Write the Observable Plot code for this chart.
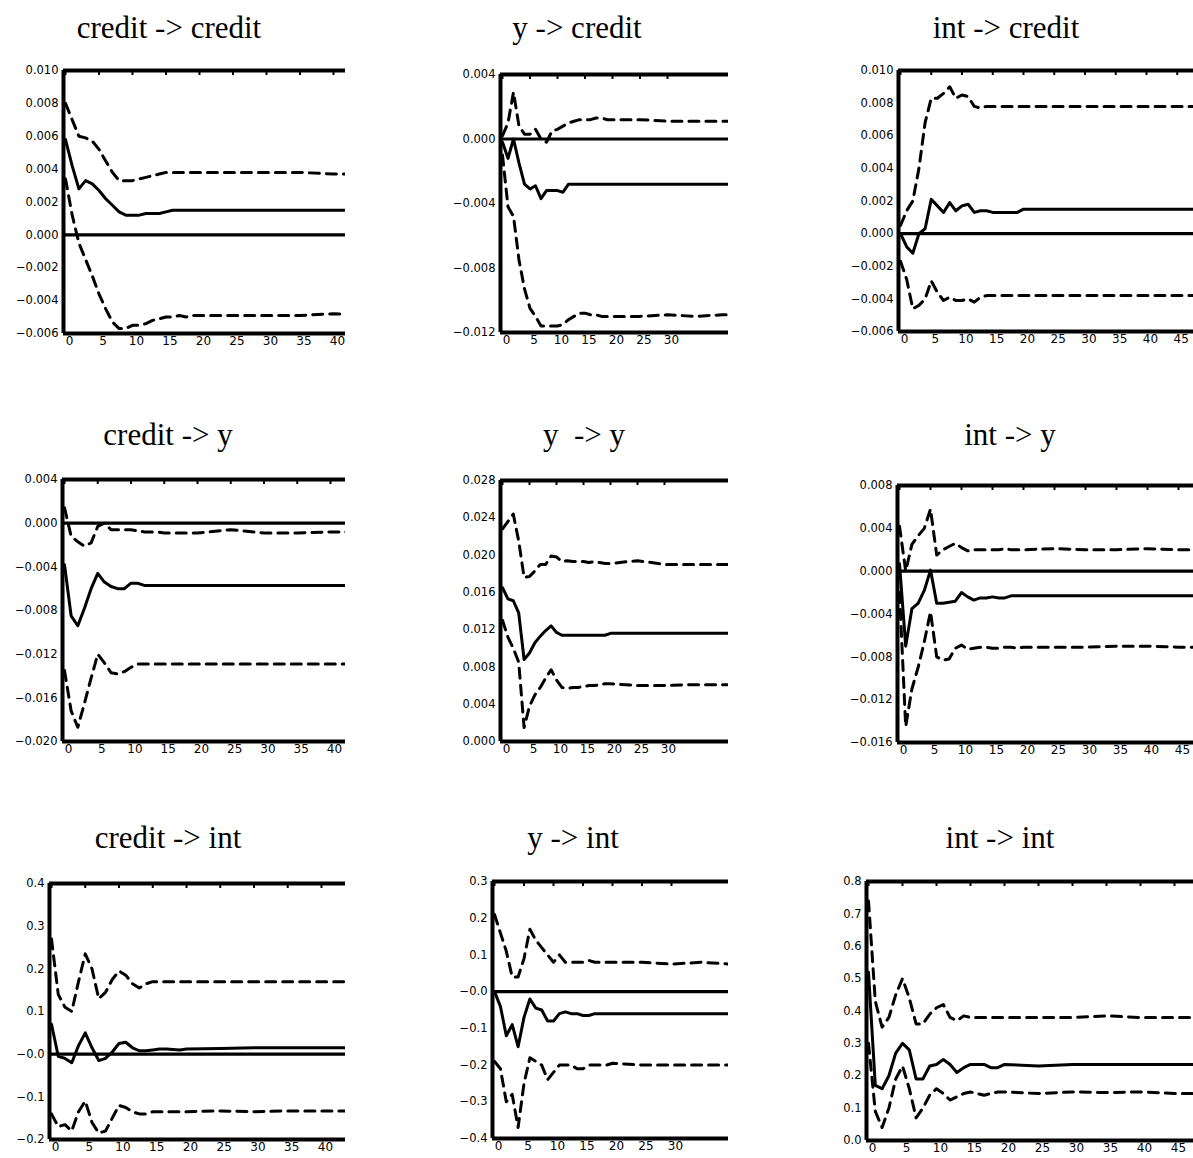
<!DOCTYPE html>
<html><head><meta charset="utf-8">
<script src="https://cdn.jsdelivr.net/npm/d3@7"></script>
<script src="https://cdn.jsdelivr.net/npm/@observablehq/plot@0.6"></script>
<style>
body{margin:0;background:#fff;}
#root{position:relative;width:1193px;height:1158px;overflow:hidden;background:#fff;}
.title{position:absolute;font-family:"Liberation Serif","Times New Roman",serif;font-size:31px;color:#000;white-space:pre;transform:translateX(-50%);line-height:1;}
.panel{position:absolute;overflow:hidden;}
</style></head><body><div id="root"></div>
<script>
// horizon steps (periods)
const steps = [0,1,2,3,4,5,6,7,8,9,10,11,12,13,14,15,16,17,18,19,20,25,30,35,40,45,50];

// credit -> credit
const cc_mid = [0.0058,0.0042,0.0028,0.0033,0.0031,0.0027,0.0022,0.0018,0.0014,0.0012,0.0012,0.0012,0.0013,0.0013,0.0013,0.0014,0.0015,0.0015,0.0015,0.0015,0.0015,0.0015,0.0015,0.0015,0.0015,0.0015,0.0015];
const cc_hi  = [0.0080,0.0070,0.0060,0.0059,0.0057,0.0052,0.0045,0.0038,0.0033,0.0033,0.0033,0.0034,0.0035,0.0036,0.0037,0.0038,0.0038,0.0038,0.0038,0.0038,0.0038,0.0038,0.0038,0.0038,0.0037,0.0037,0.0037];
const cc_lo  = [0.0034,0.0012,-0.0005,-0.0015,-0.0025,-0.0036,-0.0045,-0.0053,-0.0057,-0.0057,-0.0055,-0.0055,-0.0054,-0.0052,-0.0051,-0.0050,-0.0050,-0.0049,-0.0050,-0.0049,-0.0049,-0.0049,-0.0049,-0.0049,-0.0048,-0.0049,-0.0049];

// y -> credit
const yc_mid = [-0.0002,-0.0012,0.0000,-0.0015,-0.0028,-0.0031,-0.0029,-0.0037,-0.0032,-0.0032,-0.0032,-0.0033,-0.0028,-0.0028,-0.0028,-0.0028,-0.0028,-0.0028,-0.0028,-0.0028,-0.0028,-0.0028,-0.0028,-0.0028,-0.0028,-0.0028,-0.0028];
const yc_hi  = [0.0002,0.0010,0.0029,0.0008,0.0003,0.0003,0.0006,0.0000,-0.0002,0.0005,0.0006,0.0008,0.0010,0.0011,0.0012,0.0012,0.0012,0.0013,0.0013,0.0012,0.0012,0.0012,0.0011,0.0011,0.0011,0.0011,0.0011];
const yc_lo  = [-0.0010,-0.0042,-0.0048,-0.0075,-0.0093,-0.0105,-0.0110,-0.0116,-0.0116,-0.0116,-0.0116,-0.0115,-0.0112,-0.0110,-0.0108,-0.0108,-0.0109,-0.0109,-0.0110,-0.0110,-0.0110,-0.0110,-0.0109,-0.0110,-0.0109,-0.0109,-0.0109];

// int -> credit
const ic_mid = [0.0000,-0.0008,-0.0012,0.0000,0.0003,0.0021,0.0017,0.0013,0.0019,0.0014,0.0017,0.0018,0.0013,0.0014,0.0014,0.0013,0.0013,0.0013,0.0013,0.0013,0.0015,0.0015,0.0015,0.0015,0.0015,0.0015,0.0015];
const ic_hi  = [0.0005,0.0014,0.0020,0.0040,0.0068,0.0083,0.0083,0.0086,0.0090,0.0083,0.0085,0.0084,0.0078,0.0077,0.0078,0.0078,0.0078,0.0078,0.0078,0.0078,0.0078,0.0078,0.0078,0.0078,0.0078,0.0078,0.0078];
const ic_lo  = [-0.0017,-0.0028,-0.0046,-0.0044,-0.0040,-0.0029,-0.0036,-0.0041,-0.0039,-0.0041,-0.0041,-0.0040,-0.0042,-0.0039,-0.0038,-0.0038,-0.0038,-0.0038,-0.0038,-0.0038,-0.0038,-0.0038,-0.0038,-0.0038,-0.0038,-0.0038,-0.0038];

// credit -> y
const cy_mid = [-0.0038,-0.0085,-0.0094,-0.0078,-0.0060,-0.0046,-0.0054,-0.0058,-0.0060,-0.0060,-0.0055,-0.0055,-0.0057,-0.0057,-0.0057,-0.0057,-0.0057,-0.0057,-0.0057,-0.0057,-0.0057,-0.0057,-0.0057,-0.0057,-0.0057,-0.0057,-0.0057];
const cy_hi  = [0.0014,-0.0012,-0.0017,-0.0021,-0.0018,-0.0003,0.0000,-0.0006,-0.0006,-0.0006,-0.0006,-0.0007,-0.0008,-0.0008,-0.0008,-0.0009,-0.0009,-0.0009,-0.0009,-0.0009,-0.0009,-0.0006,-0.0009,-0.0009,-0.0008,-0.0008,-0.0008];
const cy_lo  = [-0.0135,-0.0172,-0.0187,-0.0165,-0.0142,-0.0120,-0.0128,-0.0137,-0.0138,-0.0136,-0.0132,-0.0129,-0.0129,-0.0129,-0.0129,-0.0129,-0.0129,-0.0129,-0.0129,-0.0129,-0.0129,-0.0129,-0.0129,-0.0129,-0.0129,-0.0129,-0.0129];

// y -> y
const yy_mid = [0.0165,0.0153,0.0151,0.0138,0.0088,0.0095,0.0106,0.0113,0.0119,0.0124,0.0117,0.0114,0.0114,0.0114,0.0114,0.0114,0.0114,0.0114,0.0114,0.0114,0.0116,0.0116,0.0116,0.0116,0.0116,0.0116,0.0116];
const yy_hi  = [0.0228,0.0236,0.0244,0.0215,0.0176,0.0177,0.0183,0.0190,0.0190,0.0199,0.0198,0.0193,0.0194,0.0193,0.0193,0.0193,0.0192,0.0193,0.0192,0.0191,0.0191,0.0194,0.0190,0.0190,0.0190,0.0190,0.0190];
const yy_lo  = [0.0130,0.0112,0.0100,0.0085,0.0015,0.0038,0.0050,0.0058,0.0068,0.0077,0.0066,0.0058,0.0057,0.0058,0.0058,0.0059,0.0060,0.0060,0.0061,0.0062,0.0062,0.0060,0.0060,0.0061,0.0061,0.0061,0.0061];

// int -> y
const iy_mid = [0.0007,-0.0070,-0.0035,-0.0030,-0.0018,0.0001,-0.0030,-0.0030,-0.0029,-0.0028,-0.0020,-0.0024,-0.0027,-0.0025,-0.0025,-0.0024,-0.0025,-0.0025,-0.0023,-0.0023,-0.0023,-0.0023,-0.0023,-0.0023,-0.0023,-0.0023,-0.0023];
const iy_hi  = [0.0042,0.0000,0.0025,0.0033,0.0040,0.0058,0.0015,0.0020,0.0023,0.0026,0.0022,0.0019,0.0020,0.0020,0.0020,0.0020,0.0020,0.0021,0.0020,0.0020,0.0020,0.0021,0.0020,0.0020,0.0021,0.0020,0.0020];
const iy_lo  = [-0.0020,-0.0145,-0.0110,-0.0090,-0.0066,-0.0038,-0.0080,-0.0083,-0.0082,-0.0072,-0.0069,-0.0073,-0.0072,-0.0071,-0.0071,-0.0072,-0.0072,-0.0071,-0.0071,-0.0072,-0.0071,-0.0071,-0.0071,-0.0070,-0.0070,-0.0071,-0.0071];

// credit -> int
const ci_mid = [0.070,-0.005,-0.010,-0.020,0.020,0.050,0.015,-0.015,-0.010,0.005,0.025,0.028,0.015,0.008,0.008,0.010,0.012,0.012,0.011,0.010,0.012,0.013,0.015,0.015,0.015,0.015,0.015];
const ci_hi  = [0.27,0.14,0.11,0.10,0.17,0.235,0.20,0.13,0.145,0.175,0.195,0.185,0.165,0.155,0.165,0.17,0.17,0.17,0.17,0.17,0.17,0.17,0.17,0.17,0.17,0.17,0.17];
const ci_lo  = [-0.14,-0.17,-0.165,-0.18,-0.135,-0.11,-0.16,-0.185,-0.18,-0.15,-0.12,-0.125,-0.135,-0.14,-0.14,-0.135,-0.135,-0.135,-0.135,-0.135,-0.135,-0.133,-0.135,-0.133,-0.133,-0.133,-0.133];

// y -> int
const yi_mid = [0.000,-0.040,-0.120,-0.090,-0.150,-0.070,-0.020,-0.045,-0.050,-0.080,-0.080,-0.060,-0.055,-0.060,-0.060,-0.065,-0.065,-0.060,-0.060,-0.060,-0.060,-0.060,-0.060,-0.060,-0.060,-0.060,-0.060];
const yi_hi  = [0.21,0.16,0.11,0.04,0.04,0.09,0.17,0.14,0.12,0.10,0.08,0.10,0.08,0.08,0.08,0.08,0.085,0.08,0.08,0.08,0.08,0.08,0.075,0.08,0.075,0.075,0.075];
const yi_lo  = [-0.19,-0.21,-0.30,-0.28,-0.37,-0.25,-0.18,-0.19,-0.20,-0.24,-0.22,-0.20,-0.20,-0.20,-0.21,-0.21,-0.20,-0.20,-0.20,-0.20,-0.195,-0.20,-0.20,-0.20,-0.20,-0.20,-0.20];

// int -> int
const ii_mid = [0.52,0.17,0.16,0.20,0.27,0.30,0.28,0.19,0.19,0.23,0.235,0.25,0.235,0.21,0.225,0.235,0.235,0.235,0.225,0.225,0.235,0.23,0.235,0.235,0.235,0.235,0.235];
const ii_hi  = [0.74,0.43,0.35,0.38,0.45,0.50,0.44,0.36,0.36,0.39,0.41,0.42,0.38,0.37,0.385,0.38,0.38,0.38,0.38,0.38,0.38,0.38,0.38,0.385,0.38,0.38,0.38];
const ii_lo  = [0.30,0.09,0.04,0.10,0.19,0.23,0.16,0.07,0.10,0.14,0.16,0.145,0.125,0.135,0.145,0.15,0.145,0.14,0.145,0.15,0.15,0.145,0.15,0.148,0.15,0.145,0.145];

// tick values and labels
const yt_credit = [0.010,0.008,0.006,0.004,0.002,0,-0.002,-0.004,-0.006];
const yl_credit = ["0.010","0.008","0.006","0.004","0.002","0.000","\u22120.002","\u22120.004","\u22120.006"];
const yt_yc = [0.004,0,-0.004,-0.008,-0.012];
const yl_yc = ["0.004","0.000","\u22120.004","\u22120.008","\u22120.012"];
const yt_cy = [0.004,0,-0.004,-0.008,-0.012,-0.016,-0.020];
const yl_cy = ["0.004","0.000","\u22120.004","\u22120.008","\u22120.012","\u22120.016","\u22120.020"];
const yt_yy = [0.028,0.024,0.020,0.016,0.012,0.008,0.004,0];
const yl_yy = ["0.028","0.024","0.020","0.016","0.012","0.008","0.004","0.000"];
const yt_iy = [0.008,0.004,0,-0.004,-0.008,-0.012,-0.016];
const yl_iy = ["0.008","0.004","0.000","\u22120.004","\u22120.008","\u22120.012","\u22120.016"];
const yt_ci = [0.4,0.3,0.2,0.1,0,-0.1,-0.2];
const yl_ci = ["0.4","0.3","0.2","0.1","\u22120.0","\u22120.1","\u22120.2"];
const yt_yi = [0.3,0.2,0.1,0,-0.1,-0.2,-0.3,-0.4];
const yl_yi = ["0.3","0.2","0.1","\u22120.0","\u22120.1","\u22120.2","\u22120.3","\u22120.4"];
const yt_ii = [0.8,0.7,0.6,0.5,0.4,0.3,0.2,0.1,0];
const yl_ii = ["0.8","0.7","0.6","0.5","0.4","0.3","0.2","0.1","0.0"];
const xt_col1 = [0,5,10,15,20,25,30,35,40];
const xt_col2 = [0,5,10,15,20,25,30];
const xt_col3 = [0,5,10,15,20,25,30,35,40,45];

const panels = [
  {title:"credit -> credit", mid:cc_mid, hi:cc_hi, lo:cc_lo, yt:yt_credit, yl:yl_credit, xt:xt_col1},
  {title:"y -> credit",      mid:yc_mid, hi:yc_hi, lo:yc_lo, yt:yt_yc, yl:yl_yc, xt:xt_col2},
  {title:"int -> credit",    mid:ic_mid, hi:ic_hi, lo:ic_lo, yt:yt_credit, yl:yl_credit, xt:xt_col3},
  {title:"credit -> y",      mid:cy_mid, hi:cy_hi, lo:cy_lo, yt:yt_cy, yl:yl_cy, xt:xt_col1},
  {title:"y  -> y",          mid:yy_mid, hi:yy_hi, lo:yy_lo, yt:yt_yy, yl:yl_yy, xt:xt_col2},
  {title:"int -> y",         mid:iy_mid, hi:iy_hi, lo:iy_lo, yt:yt_iy, yl:yl_iy, xt:xt_col3},
  {title:"credit -> int",    mid:ci_mid, hi:ci_hi, lo:ci_lo, yt:yt_ci, yl:yl_ci, xt:xt_col1},
  {title:"y -> int",         mid:yi_mid, hi:yi_hi, lo:yi_lo, yt:yt_yi, yl:yl_yi, xt:xt_col2},
  {title:"int -> int",       mid:ii_mid, hi:ii_hi, lo:ii_lo, yt:yt_ii, yl:yl_ii, xt:xt_col3}
];

// layout (pixels): left of svg, frame x, x of t=0, px per period, right clip, frame top/bottom, title centre/top
const layout = [
  {L:0,   fx:63,  t0:65,  u:6.7,  R:345,  top:70,  bot:333,  tx:169,  ty:12},
  {L:420, fx:500, t0:502, u:5.5,  R:728,  top:74,  bot:332,  tx:577,  ty:12},
  {L:830, fx:898, t0:900, u:6.15, R:1193, top:70,  bot:331,  tx:1006, ty:12},
  {L:0,   fx:62,  t0:64,  u:6.65, R:345,  top:479, bot:741,  tx:168,  ty:419},
  {L:420, fx:500, t0:502, u:5.4,  R:728,  top:480, bot:741,  tx:584,  ty:419},
  {L:830, fx:897, t0:899, u:6.2,  R:1193, top:485, bot:742,  tx:1010, ty:419},
  {L:0,   fx:49,  t0:51,  u:6.75, R:345,  top:883, bot:1139, tx:168,  ty:822},
  {L:420, fx:492, t0:494, u:5.9,  R:728,  top:881, bot:1138, tx:573,  ty:822},
  {L:800, fx:866, t0:868, u:6.8,  R:1193, top:881, bot:1140, tx:1000, ty:822}
];

const root = document.getElementById("root");
const MT = 8, MB = 22;

panels.forEach((p, k) => {
  const g = layout[k];
  const innerH = g.bot - g.top;
  const width = g.R - g.L;
  const height = MT + innerH + MB;
  const xmin = (g.fx - g.t0) / g.u, xmax = (g.R - g.t0) / g.u;
  const ymin = d3.min(p.yt), ymax = d3.max(p.yt);
  const rows = steps.map((t, i) => ({t, mid: p.mid[i], hi: p.hi[i], lo: p.lo[i]}));
  const labelOf = new Map(p.yt.map((v, i) => [v, p.yl[i]]));
  const tickLen = (ymax - ymin) * 5 / innerH;

  const chart = Plot.plot({
    width, height,
    marginLeft: g.fx - g.L, marginRight: 0, marginTop: MT, marginBottom: MB,
    x: {domain: [xmin, xmax], axis: null},
    y: {domain: [ymin, ymax], axis: null},
    style: {background: "transparent", color: "#000", fontFamily: "'DejaVu Sans', sans-serif", overflow: "hidden"},
    marks: [
      Plot.ruleY([0], {stroke: "#000", strokeWidth: 3.2}),
      Plot.line(rows, {x: "t", y: "hi", stroke: "#000", strokeWidth: 3, strokeDasharray: "10,7", clip: true}),
      Plot.line(rows, {x: "t", y: "lo", stroke: "#000", strokeWidth: 3, strokeDasharray: "10,7", clip: true}),
      Plot.line(rows, {x: "t", y: "mid", stroke: "#000", strokeWidth: 3, clip: true}),
      Plot.ruleY([ymin, ymax], {stroke: "#000", strokeWidth: 4}),
      Plot.ruleX([xmin], {stroke: "#000", strokeWidth: 4}),
      Plot.ruleX(p.xt, {x: d => d, y1: ymax, y2: ymax - tickLen, stroke: "#000", strokeWidth: 2}),
      Plot.axisX({ticks: p.xt, tickSize: 0, tickPadding: 3, fontSize: 12, dx: 4, label: null, tickFormat: d => String(d)}),
      Plot.axisY({ticks: p.yt, tickSize: 0, tickPadding: 5, fontSize: 11.5, label: null, tickFormat: d => labelOf.get(d)})
    ]
  });

  const box = document.createElement("div");
  box.className = "panel";
  box.style.left = g.L + "px";
  box.style.top = (g.top - MT) + "px";
  box.style.width = width + "px";
  box.style.height = height + "px";
  box.appendChild(chart);
  root.appendChild(box);

  const t = document.createElement("div");
  t.className = "title";
  t.textContent = p.title;
  t.style.left = g.tx + "px";
  t.style.top = g.ty + "px";
  root.appendChild(t);
});
</script>
</body></html>
